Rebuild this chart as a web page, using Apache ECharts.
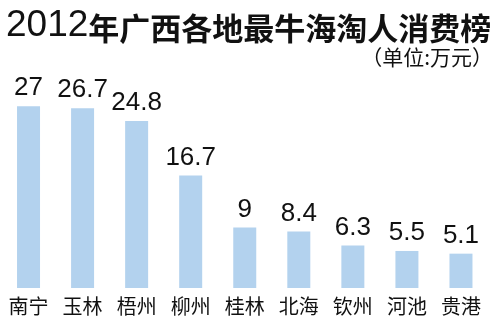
<!DOCTYPE html>
<html>
<head>
<meta charset="utf-8">
<script src="https://cdn.jsdelivr.net/npm/echarts@6/dist/echarts.min.js"></script>
<style>
  html, body { margin: 0; padding: 0; background: #fff; }
  #chart { width: 492px; height: 325px; }
</style>
</head>
<body>
<div id="chart"></div>
<script>
  const cities = ['南宁', '玉林', '梧州', '柳州', '桂林', '北海', '钦州', '河池', '贵港']
  const spend = [27, 26.7, 24.8, 16.7, 9, 8.4, 6.3, 5.5, 5.1]
  const titleYear = '2012'
  const titleText = '年广西各地最牛海淘人消费榜'
  const unitText = '（单位:万元）'

  const chart = echarts.init(document.getElementById('chart'))
  const option = {
    animation: false,
    title: [{
      text: '{y|' + titleYear + '}{c|' + titleText + '}',
      left: 1,
      top: 2,
      textStyle: {
        rich: {
          y: {
            fontFamily: 'Liberation Sans',
            fontSize: 37,
            fontWeight: 'normal',
            color: '#111',
            verticalAlign: 'bottom'
          },
          c: {
            fontFamily: 'Noto Sans CJK SC',
            fontSize: 31,
            fontWeight: 'bold',
            color: '#111',
            verticalAlign: 'bottom'
          }
        }
      }
    }, {
      text: unitText,
      right: -6,
      top: 42,
      textStyle: {
        fontFamily: 'Noto Sans CJK SC',
        fontSize: 21,
        fontWeight: 'normal',
        color: '#111'
      }
    }],
    grid: { left: 1.5, right: 4, top: 86, bottom: 37 },
    xAxis: {
      type: 'category',
      data: cities,
      axisLine: { show: false },
      axisTick: { show: false },
      axisLabel: {
        margin: 8,
        fontFamily: 'Noto Sans CJK SC',
        fontSize: 20,
        color: '#111'
      }
    },
    yAxis: {
      type: 'value',
      min: 0,
      max: 30,
      show: false,
      splitLine: { show: false }
    },
    series: [{
      type: 'bar',
      data: spend,
      barWidth: 23,
      itemStyle: { color: '#b3d2ee' },
      label: {
        show: true,
        position: 'top',
        distance: 5,
        fontFamily: 'Liberation Sans',
        fontSize: 26,
        color: '#111'
      }
    }]
  }
  chart.setOption(option)
</script>
</body>
</html>
